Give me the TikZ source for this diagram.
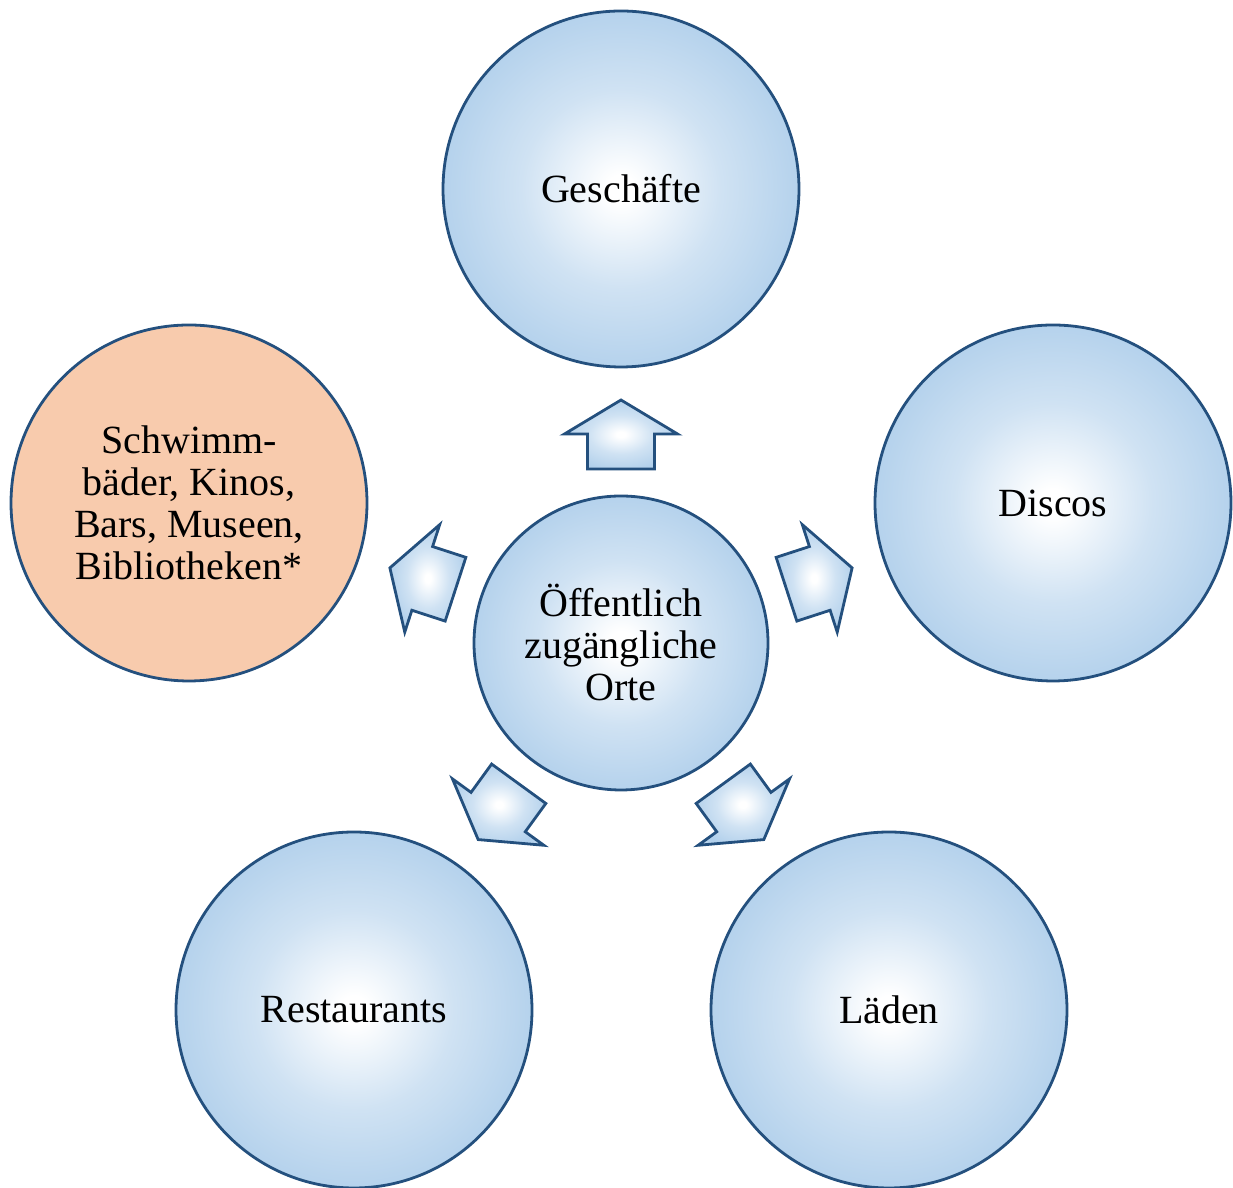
\documentclass[tikz,border=0pt]{standalone}
\usepackage{fontspec}
\setmainfont{Liberation Serif}
\definecolor{edgeblue}{HTML}{24507E}
\definecolor{bluemid}{HTML}{B0CFEB}
\definecolor{blueout}{HTML}{C8DDF1}
\definecolor{orangefill}{HTML}{F8CBAD}
\pgfdeclareradialshading{bubbleshade}{\pgfpoint{0bp}{0bp}}{color(0bp)=(white); color(2bp)=(white); color(14bp)=(bluemid!60!white); color(27bp)=(bluemid); color(35bp)=(blueout); color(50bp)=(blueout)}
\begin{document}
\begin{tikzpicture}[x=0.5pt,y=0.5pt,
  roundbase/.style={circle, draw=edgeblue, line width=1.4pt,
    minimum size=178pt, inner sep=0pt, align=center,
    font=\fontsize{20}{21}\selectfont},
  bubble/.style={roundbase, shading=bubbleshade},
  hub/.style={bubble, minimum size=147pt},
  orangebubble/.style={roundbase, fill=orangefill},
  blockarrow/.style={draw=edgeblue, line width=1.4pt, shading=bubbleshade, line join=miter}]
\useasboundingbox (0,0) rectangle (1233,1188);

\node[hub] (c) at (621,545) {Öffentlich\\zugängliche\\Orte};
\node[bubble] (top) at (621,999) {Geschäfte};
\node[bubble] (disc) at (1053,685) {Discos};
\node[orangebubble] (schw) at (189,685) {Schwimm-\\bäder, Kinos,\\Bars, Museen,\\Bibliotheken*};
\node[bubble] (rest) at (354,178) {Restaurants};
\node[bubble] (laed) at (889,178) {Läden};

\foreach \r in {0,-72,-144,144,72}{
  \begin{scope}[shift={(c.center)}, rotate=\r]
    \path[blockarrow] (-33.5,174) -- (-33.5,209) -- (-56.5,209) -- (0,243)
      -- (56.5,209) -- (33.5,209) -- (33.5,174) -- cycle;
  \end{scope}
}
\end{tikzpicture}
\end{document}
